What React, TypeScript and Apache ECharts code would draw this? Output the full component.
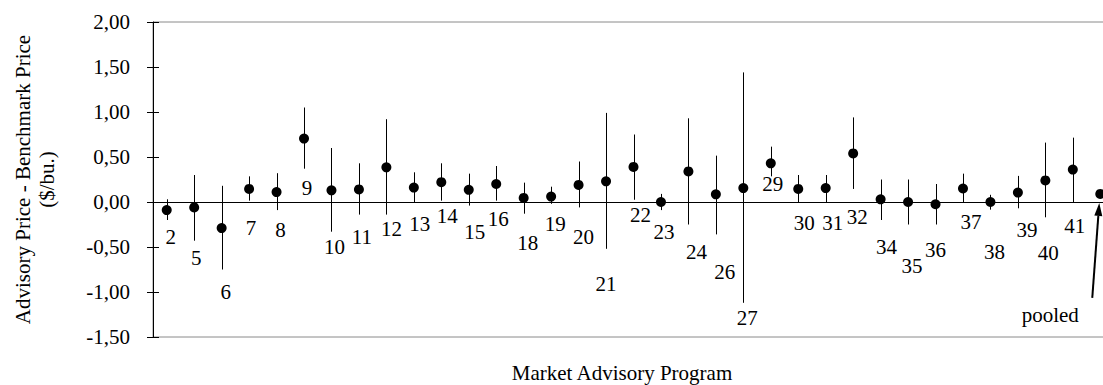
import React, { useEffect, useRef } from "react";
import * as echarts from "echarts";

// Advisory program identifiers (last entry is the pooled estimate)
const programs = [
  "2", "5", "6", "7", "8", "9", "10", "11", "12", "13", "14", "15", "16", "18", "19", "20", "21", "22",
  "23", "24", "26", "27", "29", "30", "31", "32", "34", "35", "36", "37", "38", "39", "40", "41", "pooled",
];

// Mean difference, advisory price minus benchmark price ($/bu.)
const means = [
  -0.09, -0.06, -0.29, 0.145, 0.11, 0.705, 0.13, 0.14, 0.385, 0.16, 0.22, 0.135, 0.2, 0.045, 0.06, 0.19,
  0.23, 0.39, 0.0, 0.34, 0.085, 0.155, 0.43, 0.145, 0.155, 0.54, 0.03, 0.0, -0.025, 0.15, 0.0, 0.105,
  0.24, 0.36, 0.09,
];

// Lower and upper ends of each interval
const lower = [
  -0.2, -0.43, -0.75, 0.015, -0.09, 0.37, -0.33, -0.14, -0.14, -0.01, 0.015, -0.04, 0.015, -0.13, -0.02,
  -0.06, -0.52, 0.025, -0.09, -0.25, -0.36, -1.12, 0.285, 0.0, 0.0, 0.145, -0.2, -0.25, -0.25, 0.0,
  -0.085, -0.07, -0.17, 0.0, 0.05,
];
const upper = [
  0.03, 0.3, 0.18, 0.285, 0.32, 1.05, 0.6, 0.43, 0.92, 0.33, 0.43, 0.315, 0.4, 0.215, 0.17, 0.45, 0.99,
  0.75, 0.09, 0.93, 0.515, 1.44, 0.615, 0.3, 0.3, 0.94, 0.25, 0.25, 0.2, 0.315, 0.08, 0.29, 0.66, 0.715,
  0.13,
];

// Y axis range
const yMin = -1.5;
const yMax = 2;
const yStep = 0.5;

// Pixel nudges of each program label relative to its dot
const labelOffsets: [number, number][] = [
  [4, 27], [2, 51], [4, 64], [2, 39], [4, 38], [3, 49], [3, 57], [3, 48], [5, 62], [6, 36], [6, 34],
  [6, 42], [2, 35], [4, 45], [4, 27], [5, 52], [0, 103], [7, 48], [3, 30], [8, 81], [9, 78], [4, 130],
  [2, 21], [6, 34], [7, 35], [4, 64], [6, 48], [4, 64], [0, 46], [8, 33], [4, 50], [9, 37], [3, 73],
  [2, 56], [-50, 121],
];

const FONT = "'Liberation Serif', 'Times New Roman', serif";

export default function App() {
  const ref = useRef<HTMLDivElement>(null);

  useEffect(() => {
    if (!ref.current) return;
    const chart = echarts.init(ref.current, undefined, { renderer: "svg" });

    const fmt = (v: number) => v.toFixed(2).replace(".", ",");

    chart.setOption({
      animation: false,
      backgroundColor: "#fff",
      grid: {
        left: 153,
        top: 22,
        width: 961,
        height: 315,
        show: true,
        borderColor: "#8a8a8a",
        borderWidth: 1,
        backgroundColor: "transparent",
      },
      xAxis: {
        type: "category",
        data: programs,
        boundaryGap: true,
        axisLine: { onZero: true, lineStyle: { color: "#000", width: 1 } },
        axisTick: { show: false },
        axisLabel: { show: false },
        splitLine: { show: false },
      },
      yAxis: [
        {
          type: "value",
          min: yMin,
          max: yMax,
          interval: yStep,
          name: "Advisory Price - Benchmark Price\n($/bu.)",
          nameLocation: "middle",
          nameRotate: 90,
          nameGap: 94,
          nameTextStyle: { fontFamily: FONT, fontSize: 21, color: "#000", lineHeight: 24 },
          axisLine: { show: true, lineStyle: { color: "#000", width: 1 } },
          axisTick: { show: true, inside: false, length: 6, lineStyle: { color: "#000" } },
          axisLabel: {
            formatter: fmt,
            margin: 23,
            fontFamily: FONT,
            fontSize: 21,
            color: "#000",
          },
          splitLine: { show: false },
        },
        {
          // inner half of the crossing tick marks
          type: "value",
          position: "left",
          min: yMin,
          max: yMax,
          interval: yStep,
          axisLine: { show: false },
          axisTick: { show: true, inside: true, length: 6, lineStyle: { color: "#000" } },
          axisLabel: { show: false },
          splitLine: { show: false },
        },
      ],
      series: [
        {
          type: "custom",
          name: "interval",
          z: 1,
          data: programs.map((_, i) => [i, lower[i], upper[i]]),
          encode: { x: 0, y: [1, 2] },
          renderItem: (params: any, api: any) => {
            const i = api.value(0);
            const lo = api.coord([i, api.value(1)]);
            const hi = api.coord([i, api.value(2)]);
            const x = Math.round(lo[0]) + 0.5;
            return {
              type: "line",
              shape: { x1: x, y1: lo[1], x2: x, y2: hi[1] },
              style: { stroke: "#000", lineWidth: 1 },
            };
          },
        },
        {
          type: "scatter",
          name: "mean",
          z: 3,
          symbol: "circle",
          symbolSize: 10,
          itemStyle: { color: "#000", opacity: 1 },
          label: {
            show: true,
            position: "inside",
            formatter: (p: any) => programs[p.dataIndex],
            fontFamily: FONT,
            fontSize: 21,
            color: "#000",
          },
          data: programs.map((_, i) => ({
            value: [i, means[i]],
            label: { offset: labelOffsets[i] },
          })),
        },
      ],
    });

    // Arrow from the "pooled" label up to its dot, plus the x axis title
    const last = programs.length - 1;
    const p = chart.convertToPixel({ xAxisIndex: 0, yAxisIndex: 0 }, [last, means[last]]) as number[];
    const tail = [p[0] - 8, p[1] + 104];
    const tip = [p[0] - 1, p[1] + 9];
    const dx = tip[0] - tail[0];
    const dy = tip[1] - tail[1];
    const len = Math.hypot(dx, dy);
    const ux = dx / len;
    const uy = dy / len;
    const headLen = 13;
    const headHalf = 4;
    const base = [tip[0] - ux * headLen, tip[1] - uy * headLen];

    chart.setOption({
      graphic: [
        {
          type: "line",
          shape: { x1: tail[0], y1: tail[1], x2: base[0], y2: base[1] },
          style: { stroke: "#000", lineWidth: 2 },
          z: 10,
        },
        {
          type: "polygon",
          shape: {
            points: [
              tip,
              [base[0] - uy * headHalf, base[1] + ux * headHalf],
              [base[0] + uy * headHalf, base[1] - ux * headHalf],
            ],
          },
          style: { fill: "#000" },
          z: 10,
        },
        {
          type: "text",
          x: 622,
          y: 373,
          style: {
            text: "Market Advisory Program",
            fontFamily: FONT,
            fontSize: 21,
            fill: "#000",
            align: "center",
            verticalAlign: "middle",
          },
        },
      ],
    });

    return () => chart.dispose();
  }, []);

  return (
    <div
      style={{
        position: "fixed",
        left: 0,
        top: 0,
        width: 1103,
        height: 385,
        overflow: "hidden",
        background: "#fff",
      }}
    >
      <div ref={ref} style={{ width: 1130, height: 385 }} />
    </div>
  );
}
